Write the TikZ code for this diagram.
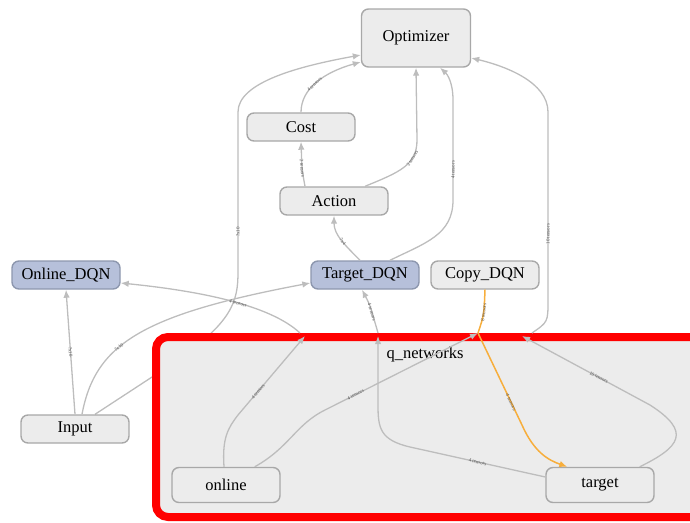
\documentclass[tikz,border=0pt]{standalone}
\usepackage{fontspec}
\setmainfont{Liberation Serif}
\usetikzlibrary{arrows.meta,calc}
\definecolor{edgegray}{HTML}{BDBDBD}
\definecolor{nodefill}{HTML}{ECECEC}
\definecolor{nodedraw}{HTML}{A8A8A8}
\definecolor{bluefill}{HTML}{B6C0DA}
\definecolor{bluedraw}{HTML}{8D97AE}
\definecolor{qred}{HTML}{FF0000}
\definecolor{qorange}{HTML}{F7AE3C}
\definecolor{labgray}{HTML}{555555}
\pgfdeclarelayer{bg}
\pgfdeclarelayer{mid}
\pgfsetlayers{bg,mid,main}
\tikzset{
  opbox/.style={draw=nodedraw, fill=nodefill, line width=1.4pt, rounded corners=7pt,
    minimum width=108pt, minimum height=28pt, inner sep=0pt, font=\fontsize{16.5}{18}\selectfont},
  bluebox/.style={opbox, fill=bluefill, draw=bluedraw},
  edge/.style={draw=edgegray, line width=1.3pt, -{Latex[length=8pt,width=6.5pt]}},
  orangeedge/.style={draw=qorange, line width=1.5pt},
  lab/.style={sloped, font=\fontsize{5}{5}\selectfont, text=labgray, inner sep=0.5pt}
}
\begin{document}
\begin{tikzpicture}[x=1pt,y=-1pt]
\useasboundingbox (0,0) rectangle (690,522);
% nodes
\node[opbox, minimum height=58pt, minimum width=109pt] (Optimizer) at (416,38) {Optimizer};
\node[opbox] (Cost) at (301,127) {Cost};
\node[opbox] (Action) at (334,201) {Action};
\node[bluebox] (Online) at (66,275) {Online\_DQN};
\node[bluebox] (Target) at (365,275) {Target\_DQN};
\node[opbox] (Copy) at (485,275) {Copy\_DQN};
\node[opbox] (Input) at (75,429) {Input};
\node[opbox, minimum height=35pt] (online) at (226,485) {online};
\node[opbox, minimum height=35pt] (target) at (600,485) {target};
% q_networks group
\begin{pgfonlayer}{mid}
\begin{scope}
\clip (0,0) rectangle (690,522);
\draw[qred, fill=nodefill, line width=8pt, rounded corners=12pt] (156,337) rectangle (720,517);
\end{scope}
\end{pgfonlayer}
\node[font=\fontsize{16.5}{18}\selectfont, anchor=center] (qlabel) at (425,355) {q\_networks};
\coordinate (qOnOut) at (300,333);
\coordinate (qOnIn) at (305,336);
\coordinate (qTgt) at (378,333);
\coordinate (qCopy) at (478,333);
\coordinate (qOptOut) at (532,333);
\coordinate (qOptIn) at (522,336);
% hidden edge Input -> Optimizer (behind group)
\begin{pgfonlayer}{bg}
\draw[edge] ($(Input.north)+(20,0)$) -- (175,362) .. controls (232,322) and (238,302) .. (238,272)
  -- node[lab, pos=0.25]{?x10} (238,112) .. controls (238,82) and (300,66) .. ($(Optimizer.west)+(0,17)$);
\end{pgfonlayer}
% edges
\draw[edge] (Input.north) -- node[lab]{?x10} (Online.south);
\draw[edge] ($(Input.north)+(7,0)$) .. controls (95,345) and (140,315) .. node[lab, pos=0.4]{?x10} ($(Target.west)+(0,8)$);
\draw[edge] (Cost.north) .. controls (301,88) and (325,72) .. node[lab, pos=0.45]{4 tensors} ($(Optimizer.west)+(0,24)$);
\draw[edge] ($(Action.north)+(31,0)$) .. controls (400,172) and (417,165) .. node[lab, pos=0.7]{2 tensors} (417,140) -- (Optimizer.south);
\draw[edge] ($(Target.north)+(25,0)$) .. controls (425,243) and (453,235) .. (453,200) -- node[lab, pos=0.3]{4 tensors} (453,100) .. controls (453,82) and (447,74) .. ($(Optimizer.south)+(24,0)$);
\draw[edge] ($(Target.north)+(-5,0)$) .. controls (345,245) and (334,235) .. node[lab, pos=0.45]{?x4} (Action.south);
\draw[edge] ($(Action.north)+(-29,0)$) .. controls (302,170) .. node[lab]{2 tensors} (Cost.south);
\draw[edge] (qOptOut) .. controls (548,322) .. (548,300) -- node[lab, pos=0.35]{10 tensors} (548,112) .. controls (548,82) and (505,66) .. ($(Optimizer.east)+(0,20)$);
\draw[edge] (qOnOut) .. controls (270,305) and (200,291) .. node[lab, pos=0.45]{4 tensors} ($(Online.east)+(0,8)$);
\draw[edge] (qTgt) .. controls (370,305) .. node[lab, pos=0.35]{4 tensors} ($(Target.south)+(-3,0)$);
\draw[orangeedge] (Copy.south) .. controls (484,315) .. node[lab, pos=0.45]{8 tensors} (qCopy);
\draw[orangeedge, -{Latex[length=8pt,width=6.5pt]}] (qCopy) -- node[lab, pos=0.75]{4 tensors} (522,425) .. controls (534,452) and (548,460) .. ($(target.north west)+(22,0)$);
\draw[edge] ($(online.north)+(-2,0)$) .. controls (222,438) and (228,428) .. (238,415) -- node[lab, pos=0.3]{4 tensors} (qOnIn);
\draw[edge] ($(online.north east)+(-26,0)$) .. controls (290,447) and (295,425) .. (325,410) -- node[lab, pos=0.2]{4 tensors} (qCopy);
\draw[edge] ($(target.west)+(0,-8)$) -- node[lab, pos=0.5]{4 tensors} (410,447) .. controls (380,440) and (378,428) .. (378,405) -- ($(qTgt)+(0,3)$);
\draw[edge] ($(target.north east)+(-15,0)$) .. controls (680,447) and (692,432) .. (650,405) -- node[lab, pos=0.4]{10 tensors} (qOptIn);
\end{tikzpicture}
\end{document}
